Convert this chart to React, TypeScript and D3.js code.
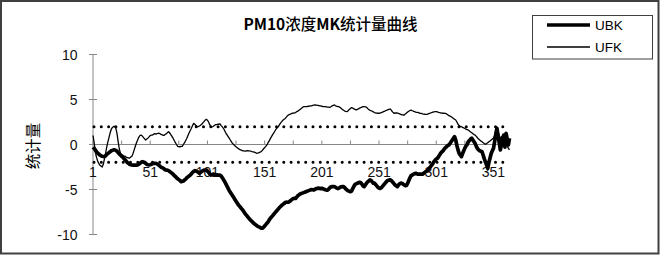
import React from "react";
import * as d3 from "d3";

const ufk: number[] = [
  1.0, 0.2, -0.8, -1.4, -1.8, -2.1, -2.3, -2.4, -2.5, -2.2,
  -1.6, -1.0, -0.3, 0.3, 0.8, 1.3, 1.7, 1.9, 2.0, 2.0,
  1.8, 1.2, 0.3, -0.5, -1.0, -1.1, -1.2, -1.3, -1.3, -1.4,
  -1.45, -1.5, -1.5, -1.4, -1.3, -1.0, -0.6, -0.2, 0.2, 0.5,
  0.8, 1.0, 1.05, 0.95, 0.8, 0.65, 0.5, 0.6, 0.7, 0.85,
  1.0, 1.05, 1.05, 1.15, 1.2, 1.15, 1.2, 1.25, 1.24, 1.15,
  1.1, 1.05, 1.0, 1.1, 1.2, 1.3, 1.42, 1.3, 1.1, 0.9,
  0.7, 0.45, 0.2, 0.0, -0.2, -0.25, -0.25, -0.22, -0.2, 0.0,
  0.2, 0.45, 0.7, 1.0, 1.3, 1.55, 1.8, 2.1, 2.35, 2.25,
  2.1, 2.0, 1.98, 2.05, 2.15, 2.25, 2.4, 2.55, 2.7, 2.8,
  2.7, 2.5, 2.2, 1.98, 1.95, 2.0, 2.1, 2.2, 2.2, 2.25,
  2.25, 2.28, 2.1, 1.95, 1.8, 1.55, 1.3, 1.1, 0.9, 0.7,
  0.5, 0.3, 0.1, 0.0, -0.15, -0.25, -0.35, -0.45, -0.55, -0.6,
  -0.65, -0.7, -0.7, -0.75, -0.7, -0.69, -0.72, -0.7, -0.75, -0.8,
  -0.82, -0.85, -0.9, -0.98, -0.95, -0.9, -0.85, -0.8, -0.65, -0.5,
  -0.35, -0.2, -0.05, 0.2, 0.4, 0.65, 0.87, 1.1, 1.3, 1.5,
  1.7, 1.85, 1.98, 2.2, 2.4, 2.55, 2.7, 2.8, 2.9, 3.05,
  3.2, 3.3, 3.35, 3.4, 3.47, 3.48, 3.5, 3.55, 3.65, 3.7,
  3.8, 3.9, 4.0, 4.1, 4.2, 4.2, 4.2, 4.22, 4.25, 4.25,
  4.3, 4.3, 4.35, 4.38, 4.39, 4.37, 4.35, 4.35, 4.3, 4.28,
  4.25, 4.22, 4.2, 4.2, 4.18, 4.15, 4.15, 4.13, 4.2, 4.3,
  4.35, 4.39, 4.3, 4.25, 4.22, 4.2, 4.1, 4.0, 3.9, 3.8,
  3.72, 3.68, 3.65, 3.75, 3.9, 4.0, 4.1, 4.05, 3.95, 3.9,
  3.83, 3.9, 3.95, 4.05, 4.1, 4.15, 4.2, 4.2, 4.18, 4.15,
  4.0, 3.9, 3.8, 3.75, 3.7, 3.62, 3.55, 3.5, 3.48, 3.47,
  3.47, 3.5, 3.55, 3.6, 3.65, 3.7, 3.78, 3.83, 3.88, 3.92,
  3.94, 3.75, 3.6, 3.47, 3.5, 3.52, 3.5, 3.45, 3.4, 3.35,
  3.3, 3.28, 3.28, 3.4, 3.5, 3.6, 3.7, 3.78, 3.83, 3.75,
  3.7, 3.65, 3.6, 3.58, 3.58, 3.5, 3.47, 3.45, 3.4, 3.38,
  3.36, 3.35, 3.35, 3.4, 3.45, 3.5, 3.55, 3.6, 3.63, 3.65,
  3.65, 3.62, 3.58, 3.55, 3.5, 3.48, 3.47, 3.47, 3.45, 3.4,
  3.3, 3.2, 3.15, 3.09, 3.0, 2.9, 2.8, 2.72, 2.5, 2.25,
  2.1, 2.0, 1.98, 1.9, 1.85, 1.78, 1.7, 1.65, 1.6, 1.5,
  1.4, 1.3, 1.2, 1.1, 1.05, 0.9, 0.75, 0.6, 0.5, 0.4,
  0.3, 0.2, 0.1, 0.02, 0.1, 0.2, 0.3, 0.4, 0.5, 0.6,
  0.69, 1.0, 1.6, 1.8, 1.4, 1.0, 0.6, 0.9, 0.5, 0.2,
  0.4, 0.0, -0.2, -0.4, -0.6,
];

const ubk: number[] = [
  -0.3, -0.43, -0.6, -0.8, -0.95, -1.05, -1.17, -1.25, -1.3, -1.33,
  -1.35, -1.25, -1.1, -1.0, -0.9, -0.8, -0.7, -0.65, -0.6, -0.6,
  -0.65, -0.75, -0.9, -1.05, -1.17, -1.3, -1.4, -1.55, -1.7, -1.85,
  -2.0, -2.1, -2.2, -2.25, -2.28, -2.3, -2.3, -2.3, -2.29, -2.28,
  -2.2, -2.1, -2.0, -1.9, -1.95, -2.0, -2.1, -2.2, -2.25, -2.28,
  -2.25, -2.2, -2.15, -2.1, -2.1, -2.1, -2.15, -2.25, -2.35, -2.46,
  -2.55, -2.6, -2.7, -2.8, -2.85, -2.85, -2.9, -3.0, -3.1, -3.2,
  -3.3, -3.45, -3.55, -3.7, -3.8, -3.9, -4.0, -4.13, -4.1, -4.05,
  -3.95, -3.85, -3.7, -3.6, -3.5, -3.4, -3.25, -3.1, -3.0, -2.9,
  -2.95, -3.0, -3.1, -3.2, -3.1, -3.0, -2.9, -2.85, -2.84, -2.83,
  -2.95, -3.1, -3.25, -3.39, -3.35, -3.3, -3.32, -3.35, -3.37, -3.39,
  -3.4, -3.4, -3.5, -3.7, -3.9, -4.1, -4.35, -4.6, -4.85, -5.1,
  -5.3, -5.5, -5.7, -5.9, -6.1, -6.3, -6.5, -6.7, -6.85, -7.0,
  -7.15, -7.3, -7.5, -7.7, -7.85, -8.0, -8.15, -8.3, -8.45, -8.55,
  -8.7, -8.8, -8.9, -9.0, -9.1, -9.15, -9.22, -9.3, -9.3, -9.2,
  -9.05, -8.9, -8.75, -8.6, -8.4, -8.2, -8.05, -7.9, -7.75, -7.6,
  -7.45, -7.3, -7.15, -7.0, -6.88, -6.75, -6.65, -6.55, -6.45, -6.4,
  -6.42, -6.4, -6.3, -6.2, -6.1, -6.0, -5.98, -6.0, -5.85, -5.7,
  -5.6, -5.5, -5.45, -5.4, -5.35, -5.3, -5.25, -5.2, -5.15, -5.1,
  -5.05, -5.0, -5.03, -5.06, -4.98, -4.9, -4.88, -4.85, -4.87, -4.9,
  -4.87, -4.92, -4.98, -5.03, -5.06, -5.06, -4.95, -4.8, -4.7, -4.68,
  -4.68, -4.68, -4.75, -4.85, -4.9, -4.85, -4.75, -4.7, -4.68, -4.68,
  -4.8, -4.95, -5.05, -5.15, -5.2, -5.24, -5.17, -4.9, -4.65, -4.45,
  -4.35, -4.31, -4.25, -4.2, -4.25, -4.4, -4.6, -4.68, -4.5, -4.3,
  -4.15, -4.05, -3.94, -4.0, -4.15, -4.3, -4.3, -4.45, -4.6, -4.75,
  -4.85, -4.87, -4.8, -4.65, -4.5, -4.35, -4.2, -4.05, -3.98, -3.94,
  -3.94, -4.05, -4.2, -4.35, -4.5, -4.6, -4.68, -4.5, -4.35, -4.3,
  -4.31, -4.4, -4.5, -4.57, -4.55, -4.3, -4.0, -3.7, -3.45, -3.39,
  -3.3, -3.25, -3.2, -3.25, -3.3, -3.3, -3.28, -3.3, -3.3, -3.2,
  -3.1, -3.0, -2.95, -2.8, -2.6, -2.46, -2.3, -2.1, -1.9, -1.75,
  -1.6, -1.54, -1.35, -1.15, -0.95, -0.8, -0.7, -0.5, -0.35, -0.25,
  -0.12, -0.05, 0.1, 0.3, 0.5, 0.69, 0.87, 0.5, -0.1, -0.6,
  -1.0, -1.17, -1.35, -1.0, -0.7, -0.4, -0.15, 0.0, 0.3, 0.45,
  0.6, 0.69, 0.5, 0.3, 0.1, -0.2, -0.45, -0.6, -0.7, -0.75,
  -0.8, -1.2, -1.6, -1.95, -2.28, -2.65, -2.0, -1.5, -1.0, -0.7,
  -0.43, 0.3, 1.1, 1.8, 1.0, 0.2, -0.6, 0.0, 0.6, 1.05,
  -0.3, 1.24, 0.6, -0.05, 0.7,
];

const seriesNames = ["UBK", "UFK"];
const criticalValues = [1.96, -1.96];
const yTicks = [-10, -5, 0, 5, 10];
const xLabelCats = [1, 51, 101, 151, 201, 251, 301, 351];
const xTickCats = [1, 26, 51, 76, 101, 126, 151, 176, 201, 226, 251, 276, 301, 326, 351];
const title = "PM10浓度MK统计量曲线";
const yTitle = "统计量";

const W = 661;
const H = 255;
const LATIN = "'Liberation Sans', Arial, sans-serif";
const CJK = "'Noto Sans CJK SC', sans-serif";

export default function App() {
  const n = ufk.length;
  const x = d3.scaleLinear().domain([1, n]).range([93, 509.5]);
  const y = d3.scaleLinear().domain([-10, 10]).range([234.5, 54.5]);
  const line = d3
    .line<number>()
    .x((_, i) => x(i + 1))
    .y((d) => y(d));
  const axisColor = "#868686";

  const runs: { t: string; latin: boolean }[] = [];
  for (const ch of title) {
    const latin = /[A-Za-z0-9]/.test(ch);
    const last = runs[runs.length - 1];
    if (last && last.latin === latin) last.t += ch;
    else runs.push({ t: ch, latin });
  }

  return (
    <svg
      width={W}
      height={H}
      style={{ position: "absolute", left: 0, top: 0, background: "#fff" }}
    >
      <rect x={0} y={0} width={W} height={H} fill="#fff" />
      <rect x={1} y={1} width={657.5} height={252.5} fill="none" stroke="#404040" strokeWidth={2} />

      <text x={330.5} y={30} textAnchor="middle" fontSize={15.5} fill="#000" fontFamily={CJK}>
        {runs.map((r, i) => (
          <tspan key={i} fontWeight={r.latin ? "bold" : 500}>
            {r.t}
          </tspan>
        ))}
      </text>

      <text
        transform={`translate(31.5,146) rotate(-90)`}
        textAnchor="middle"
        dominantBaseline="central"
        fontSize={15.5}
        fontFamily={CJK}
        fill="#000"
      >
        {yTitle}
      </text>

      <line x1={x(1)} x2={x(1)} y1={y(10)} y2={y(-10)} stroke={axisColor} strokeWidth={1} />
      {yTicks.map((t) => (
        <g key={t}>
          <line x1={x(1) - 4} x2={x(1) + 4} y1={y(t)} y2={y(t)} stroke={axisColor} strokeWidth={1} />
          <text
            x={77.5}
            y={y(t)}
            dy="0.36em"
            textAnchor="end"
            fontSize={14}
            fontFamily={LATIN}
            fill="#111"
          >
            {t}
          </text>
        </g>
      ))}

      <line x1={x(1)} x2={x(n)} y1={y(0)} y2={y(0)} stroke={axisColor} strokeWidth={1} />
      {xTickCats.map((c) => (
        <line key={c} x1={x(c)} x2={x(c)} y1={y(0) - 4} y2={y(0)} stroke={axisColor} strokeWidth={1} />
      ))}
      {xLabelCats.map((c) => (
        <text
          key={c}
          x={x(c)}
          y={176.5}
          textAnchor="middle"
          fontSize={14}
          fontFamily={LATIN}
          fill="#111"
        >
          {c}
        </text>
      ))}

      {criticalValues.map((v) => (
        <line
          key={v}
          x1={x(1) + 1}
          x2={x(n) - 2}
          y1={y(v)}
          y2={y(v)}
          stroke="#000"
          strokeWidth={3}
          strokeLinecap="round"
          strokeDasharray="0 7.3"
        />
      ))}

      <path d={line(ubk) || ""} fill="none" stroke="#000" strokeWidth={3.7} strokeLinejoin="round" />
      <path d={line(ufk) || ""} fill="none" stroke="#000" strokeWidth={1.3} strokeLinejoin="round" />

      <rect x={532.5} y={15.5} width={120} height={43.5} fill="#fff" stroke="#404040" strokeWidth={1} />
      <line x1={547} x2={590} y1={25} y2={25} stroke="#000" strokeWidth={3.7} />
      <line x1={547} x2={590} y1={47} y2={47} stroke="#000" strokeWidth={1.3} />
      <text x={595} y={30} fontSize={13.5} fontFamily={LATIN} fill="#000">
        {seriesNames[0]}
      </text>
      <text x={595} y={52} fontSize={13.5} fontFamily={LATIN} fill="#000">
        {seriesNames[1]}
      </text>
    </svg>
  );
}
